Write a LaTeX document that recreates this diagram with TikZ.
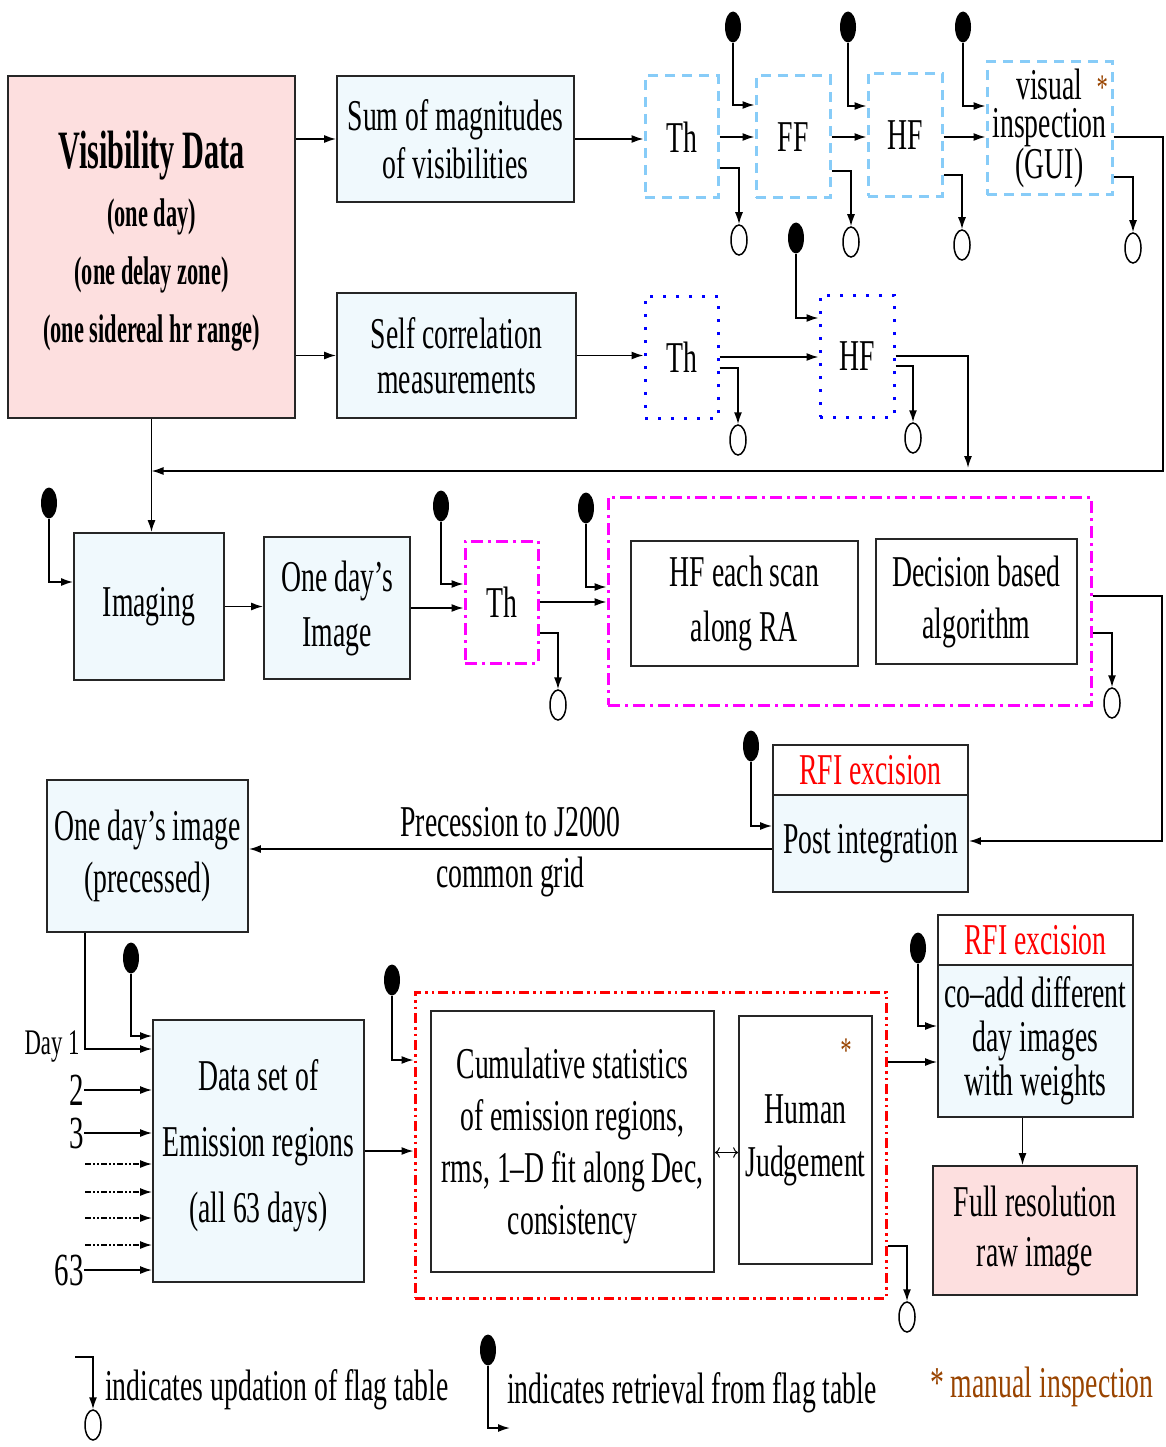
\documentclass[tikz,border=0pt]{standalone}
\usepackage{fontspec}
\setmainfont[FakeStretch=0.63]{Liberation Serif}
\newfontfamily\visfont[FakeStretch=0.56]{Liberation Serif}
\usetikzlibrary{arrows.meta,shapes.geometric}
\definecolor{boxcyan}{RGB}{240,249,253}
\definecolor{boxpink}{RGB}{253,223,223}
\definecolor{skyline}{RGB}{135,204,248}
\definecolor{starbrown}{RGB}{153,68,0}
\definecolor{puremag}{RGB}{255,0,255}
\tikzset{
  lbl/.style={font=\fontsize{44}{48}\selectfont, align=center, inner sep=0pt},
  blk/.style={lbl, draw=black!85, line width=1.8pt, fill=boxcyan},
  pinkblk/.style={blk, fill=boxpink},
  whiteblk/.style={blk, fill=white},
  bluedash/.style={lbl, draw=skyline, line width=3pt, dash pattern=on 10pt off 7pt},
  bluedot/.style={lbl, draw=blue, line width=3pt, dash pattern=on 3pt off 10pt},
  magdash/.style={lbl, draw=puremag, line width=3pt, dash pattern=on 12pt off 5pt on 3pt off 5pt},
  reddash/.style={lbl, draw=red, line width=3pt, dash pattern=on 10pt off 4pt on 2.5pt off 4pt on 2.5pt off 4pt},
  arr/.style={-{Latex[length=12pt,width=8pt]}, line width=1.6pt},
  getflag/.style={ellipse, fill=black, minimum width=16pt, minimum height=31pt, inner sep=0pt},
  putflag/.style={ellipse, draw, fill=white, line width=1.5pt, minimum width=16pt, minimum height=30pt, inner sep=0pt},
  starmark/.style={lbl, text=starbrown, font=\fontsize{36}{40}\selectfont}
}
\begin{document}
\begin{tikzpicture}[x=1pt, y=-1pt]
\useasboundingbox (0,0) rectangle (1165,1447);

% input and the two first chains
\node[pinkblk, font=\visfont\bfseries\fontsize{40}{58}\selectfont, text depth=21pt, minimum width=287pt, minimum height=342pt] (vis) at (151.5,247) {{\fontsize{54}{58}\selectfont Visibility Data}\\(one day)\\(one delay zone)\\(one sidereal hr range)};
\node[blk, minimum width=237pt, minimum height=126pt] (summag) at (455.5,139) {Sum of magnitudes\\of visibilities};
\node[blk, minimum width=239pt, minimum height=125pt, font=\fontsize{44}{45}\selectfont] (selfcor) at (456.5,355.5) {Self correlation\\measurements};

\node[bluedash, minimum width=73pt, minimum height=122pt] (th1) at (681.5,137) {Th};
\node[bluedash, minimum width=74pt, minimum height=122pt] (ff) at (793,137) {FF};
\node[bluedash, minimum width=74pt, minimum height=123pt] (hf1) at (905,135) {HF};
\node[bluedash, minimum width=125pt, minimum height=133pt, font=\fontsize{44}{38}\selectfont] (gui) at (1049.5,128.5) {visual\rlap{\hspace{14pt}\textcolor{starbrown}{\fontsize{36}{38}\selectfont *}}\\inspection\\(GUI)};

\node[bluedot, minimum width=73pt, minimum height=122pt] (th2) at (681.5,357) {Th};
\node[bluedot, minimum width=74pt, minimum height=122pt] (hf2) at (857,356) {HF};

% imaging row
\node[blk, minimum width=150pt, minimum height=147pt] (imaging) at (149,606.5) {Imaging};
\node[blk, minimum width=146pt, minimum height=142pt, font=\fontsize{44}{55}\selectfont] (dayimg) at (337,608) {One day’s\\Image};
\node[magdash, minimum width=73pt, minimum height=122pt] (th3) at (501.5,602) {Th};
\node[magdash, minimum width=483pt, minimum height=208pt] (hfgroup) at (849.5,601) {};
\node[whiteblk, minimum width=227pt, minimum height=125pt, font=\fontsize{44}{55}\selectfont] (hfscan) at (744.5,603.5) {HF each scan\\along RA};
\node[whiteblk, minimum width=201pt, minimum height=125pt, font=\fontsize{44}{52}\selectfont] (decide) at (976.5,601.5) {Decision based\\algorithm};

% post integration row
\node[whiteblk, minimum width=195pt, minimum height=50pt, text=red] (rfi1) at (870.5,770) {RFI excision};
\node[blk, minimum width=195pt, minimum height=97pt] (postint) at (870.5,843.5) {Post integration};
\node[blk, minimum width=201pt, minimum height=152pt, font=\fontsize{44}{52}\selectfont] (precimg) at (147.5,856) {One day’s image\\(precessed)};

% combining all days
\node[blk, minimum width=211pt, minimum height=262pt, font=\fontsize{44}{66}\selectfont, text depth=20pt] (dataset) at (258.5,1151) {Data set of\\Emission regions\\(all 63 days)};
\node[reddash, minimum width=471pt, minimum height=306pt] (statgroup) at (650.5,1145) {};
\node[whiteblk, minimum width=283pt, minimum height=261pt, font=\fontsize{44}{52}\selectfont, text depth=0pt] (cumstat) at (572.5,1141.5) {Cumulative statistics\\of emission regions,\\rms, 1--D fit along Dec,\\consistency};
\node[whiteblk, minimum width=133pt, minimum height=248pt, font=\fontsize{44}{53}\selectfont] (human) at (805.5,1140) {Human\\Judgement};
\node[starmark] (star2) at (846,1051) {*};
\node[whiteblk, minimum width=195pt, minimum height=50pt, text=red] (rfi2) at (1035.5,940) {RFI excision};
\node[blk, minimum width=195pt, minimum height=152pt, font=\fontsize{44}{44}\selectfont] (coadd) at (1035.5,1041) {co--add different\\day images\\with weights};
\node[pinkblk, minimum width=204pt, minimum height=129pt, font=\fontsize{44}{50}\selectfont] (fullres) at (1035,1230.5) {Full resolution\\raw image};

% flag table symbols
\node[getflag] (r1) at (733,27) {};
\node[getflag] (r2) at (848,27) {};
\node[getflag] (r3) at (963,27) {};
\node[getflag] (r4) at (796,238) {};
\node[getflag] (r5) at (49,503) {};
\node[getflag] (r6) at (441,506) {};
\node[getflag] (r7) at (586,508) {};
\node[getflag] (r8) at (751,746) {};
\node[getflag] (r9) at (131,958) {};
\node[getflag] (r10) at (392,980) {};
\node[getflag] (r11) at (918,948) {};
\node[getflag] (r12) at (488,1350) {};
\node[putflag] (u1) at (739,240) {};
\node[putflag] (u2) at (851,242) {};
\node[putflag] (u3) at (962,245) {};
\node[putflag] (u4) at (1133,248) {};
\node[putflag] (u5) at (738,440) {};
\node[putflag] (u6) at (913,438) {};
\node[putflag] (u7) at (558,705) {};
\node[putflag] (u8) at (1112,703) {};
\node[putflag] (u9) at (907,1317) {};
\node[putflag] (u10) at (93,1425) {};

\coordinate (c1) at (1163,471);
\coordinate (c2) at (968,468);
\coordinate (c3) at (1162,841);
\coordinate (lg1) at (75,1357);
\coordinate (lg2) at (510,1428);

% main flow
\draw[arr] (vis.east |- summag.west) -- (summag.west);
\draw[arr] (vis.east |- selfcor.west) -- (selfcor.west);
\draw[arr] (summag.east) -- (summag.east -| th1.west);
\draw[arr] (th1.east) -- (ff.west);
\draw[arr] (ff.east) -- (ff.east -| hf1.west);
\draw[arr] (ff.east -| hf1.east) -- (ff.east -| gui.west);
\draw[arr] (ff.east -| gui.east) -| (c1) -- (vis.south |- c1);
\draw[arr] (selfcor.east) -- (selfcor.east -| th2.west);
\draw[arr] (th2.east) -- (th2.east -| hf2.west);
\draw[arr] (hf2.east) -| (c2);
\draw[arr] (vis.south) -- (vis.south |- imaging.north);
\draw[arr] (imaging.east) -- (imaging.east -| dayimg.west);
\draw[arr] (dayimg.east) -- (dayimg.east -| th3.west);
\draw[arr] (th3.east) -- (th3.east -| hfgroup.west);
\draw[arr] ([yshift=5pt]hfgroup.east) -| (c3) -- (c3 -| postint.east);
\draw[arr] ([yshift=-5.5pt]postint.west) -- node[lbl, above=11pt] {Precession to J2000} node[lbl, below=7pt] {common grid} ([yshift=-5.5pt]postint.west -| precimg.east);
\draw[arr] ([xshift=-62.5pt]precimg.south) |- ([yshift=102pt]dataset.west);
\node[lbl, font=\fontsize{36}{40}\selectfont] (day1) at (52,1046) {Day 1};
\foreach \yy/\lab in {1090/2,1133/3,1270/63}{
  \node[lbl, anchor=east, font=\fontsize{46}{48}\selectfont] (d\lab) at (84,\yy) {\lab};
  \draw[arr] (d\lab.east) -- (d\lab.east -| dataset.west);
}
\foreach \yy [count=\i] in {1164,1192,1218,1245}{
  \coordinate (g\i) at (85,\yy);
  \draw[arr, dash pattern=on 6pt off 2pt on 2pt off 2pt on 2pt off 2pt] (g\i) -- (g\i -| dataset.west);
}
\draw[arr] (dataset.east) -- (dataset.east -| statgroup.west);
\draw[{To[length=5pt]}-{To[length=5pt]}, line width=1pt] ([yshift=-11pt]cumstat.east) -- ([yshift=-11pt]cumstat.east -| human.west);
\draw[arr] ([yshift=83pt]statgroup.east) -- ([yshift=83pt]statgroup.east -| coadd.west);
\draw[arr] ([xshift=-13pt]coadd.south) -- ([xshift=-13pt]coadd.south |- fullres.north);

% retrieval from flag table
\draw[arr] (r1.south) |- ([yshift=32pt]ff.west);
\draw[arr] (r2.south) |- ([yshift=29pt]hf1.west);
\draw[arr] (r3.south) |- ([yshift=22.5pt]gui.west);
\draw[arr] (r4.south) |- ([yshift=38pt]hf2.west);
\draw[arr] (r5.south) |- ([yshift=24.5pt]imaging.west);
\draw[arr] (r6.south) |- ([yshift=18pt]th3.west);
\draw[arr] (r7.south) |- ([yshift=14pt]hfgroup.west);
\draw[arr] (r8.south) |- ([yshift=17.5pt]postint.west);
\draw[arr] (r9.south) |- ([yshift=115pt]dataset.west);
\draw[arr] (r10.south) |- ([yshift=85pt]statgroup.west);
\draw[arr] (r11.south) |- ([yshift=15pt]coadd.west);
\draw[arr] (r12.south) |- (lg2);

% updation of flag table
\draw[arr] ([yshift=-31pt]th1.east) -| (u1.north);
\draw[arr] ([yshift=-34pt]ff.east) -| (u2.north);
\draw[arr] ([yshift=-40pt]hf1.east) -| (u3.north);
\draw[arr] ([yshift=-48.5pt]gui.east) -| (u4.north);
\draw[arr] ([yshift=-11pt]th2.east) -| (u5.north);
\draw[arr] ([yshift=-10pt]hf2.east) -| (u6.north);
\draw[arr] ([yshift=-31pt]th3.east) -| (u7.north);
\draw[arr] ([yshift=-32pt]hfgroup.east) -| (u8.north);
\draw[arr] ([yshift=-101pt]statgroup.east) -| (u9.north);
\draw[arr] (lg1) -| (u10.north);

% legend
\node[lbl, anchor=west] (leg1) at (105,1390) {indicates updation of flag table};
\node[lbl, anchor=west] (leg2) at (507,1393) {indicates retrieval from flag table};
\node[lbl, anchor=west, text=starbrown] (leg3) at (930,1387) {* manual inspection};
\end{tikzpicture}
\end{document}
